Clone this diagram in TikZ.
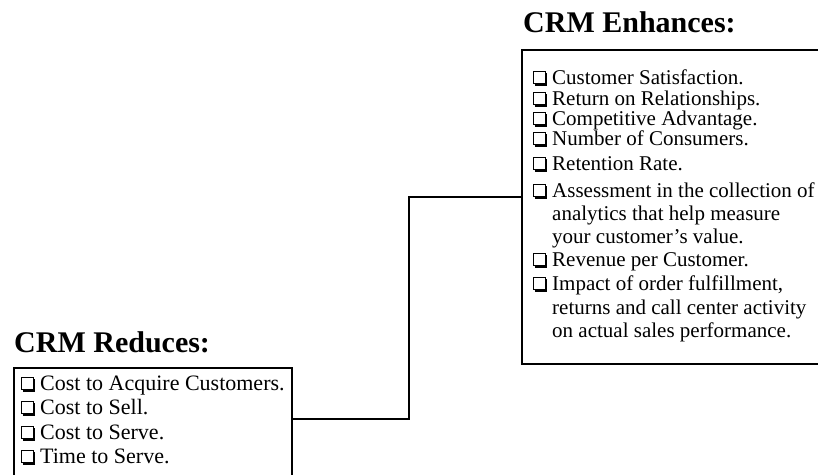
\documentclass[tikz,border=0pt]{standalone}
\usepackage{fontspec}
\setmainfont{Liberation Serif}
\begin{document}
\begin{tikzpicture}[x=1pt,y=-1pt,
  ttl/.style={anchor=base west, inner sep=0pt, font=\fontsize{30}{30}\selectfont\bfseries},
  itemR/.style={anchor=base west, inner sep=0pt, font=\fontsize{21}{21}\selectfont},
  itemL/.style={anchor=base west, inner sep=0pt, font=\fontsize{22}{22}\selectfont},
  frame/.style={draw, line width=2pt, anchor=north west, inner sep=0pt},
  link/.style={draw, line width=2pt},
  chk/.pic={\draw[line width=0.9pt] (0,-12.5) rectangle (12,-0.5);
            \draw[line width=2.2pt] (1.5,0.6) -- (13.1,0.6) -- (13.1,-11);}]
\useasboundingbox (0,0) rectangle (818,474);
\clip (0,0) rectangle (818,474);
\fill[white] (0,0) rectangle (818,474);

% titles
\node[ttl] (tR) at (523,32) {CRM Enhances:};
\node[ttl] (tL) at (14,352) {CRM Reduces:};

% boxes
\node[frame, minimum width=320pt, minimum height=314pt] (rbox) at (521,49) {};
\node[frame, minimum width=278pt, minimum height=130pt] (lbox) at (13,367) {};

% right items
\node[itemR] (r1)  at (552,84)  {Customer Satisfaction.};
\node[itemR] (r2)  at (552,105) {Return on Relationships.};
\node[itemR] (r3)  at (552,125) {Competitive Advantage.};
\node[itemR] (r4)  at (552,145) {Number of Consumers.};
\node[itemR] (r5)  at (552,170) {Retention Rate.};
\node[itemR] (r6)  at (552,197) {Assessment in the collection of};
\node[itemR] (r6b) at (552,220) {analytics that help measure};
\node[itemR] (r6c) at (552,243) {your customer’s value.};
\node[itemR] (r7)  at (552,266) {Revenue per Customer.};
\node[itemR] (r8)  at (552,290) {Impact of order fulfillment,};
\node[itemR] (r8b) at (552,314) {returns and call center activity};
\node[itemR] (r8c) at (552,337) {on actual sales performance.};
\foreach \n in {r1,r2,r3,r4,r5,r6,r7,r8}
  \pic at ([xshift=-19pt]\n.base west) {chk};

% left items
\node[itemL] (l1) at (40,390) {Cost to Acquire Customers.};
\node[itemL] (l2) at (40,414) {Cost to Sell.};
\node[itemL] (l3) at (40,439) {Cost to Serve.};
\node[itemL] (l4) at (40,463) {Time to Serve.};
\foreach \n in {l1,l2,l3,l4}
  \pic at ([xshift=-19pt]\n.base west) {chk};

% connector
\coordinate (j1) at (409,419);
\coordinate (j2) at (409,197);
\draw[link] (lbox.east |- j1) -- (j1) -- (j2) -- (rbox.west |- j2);
\end{tikzpicture}
\end{document}
